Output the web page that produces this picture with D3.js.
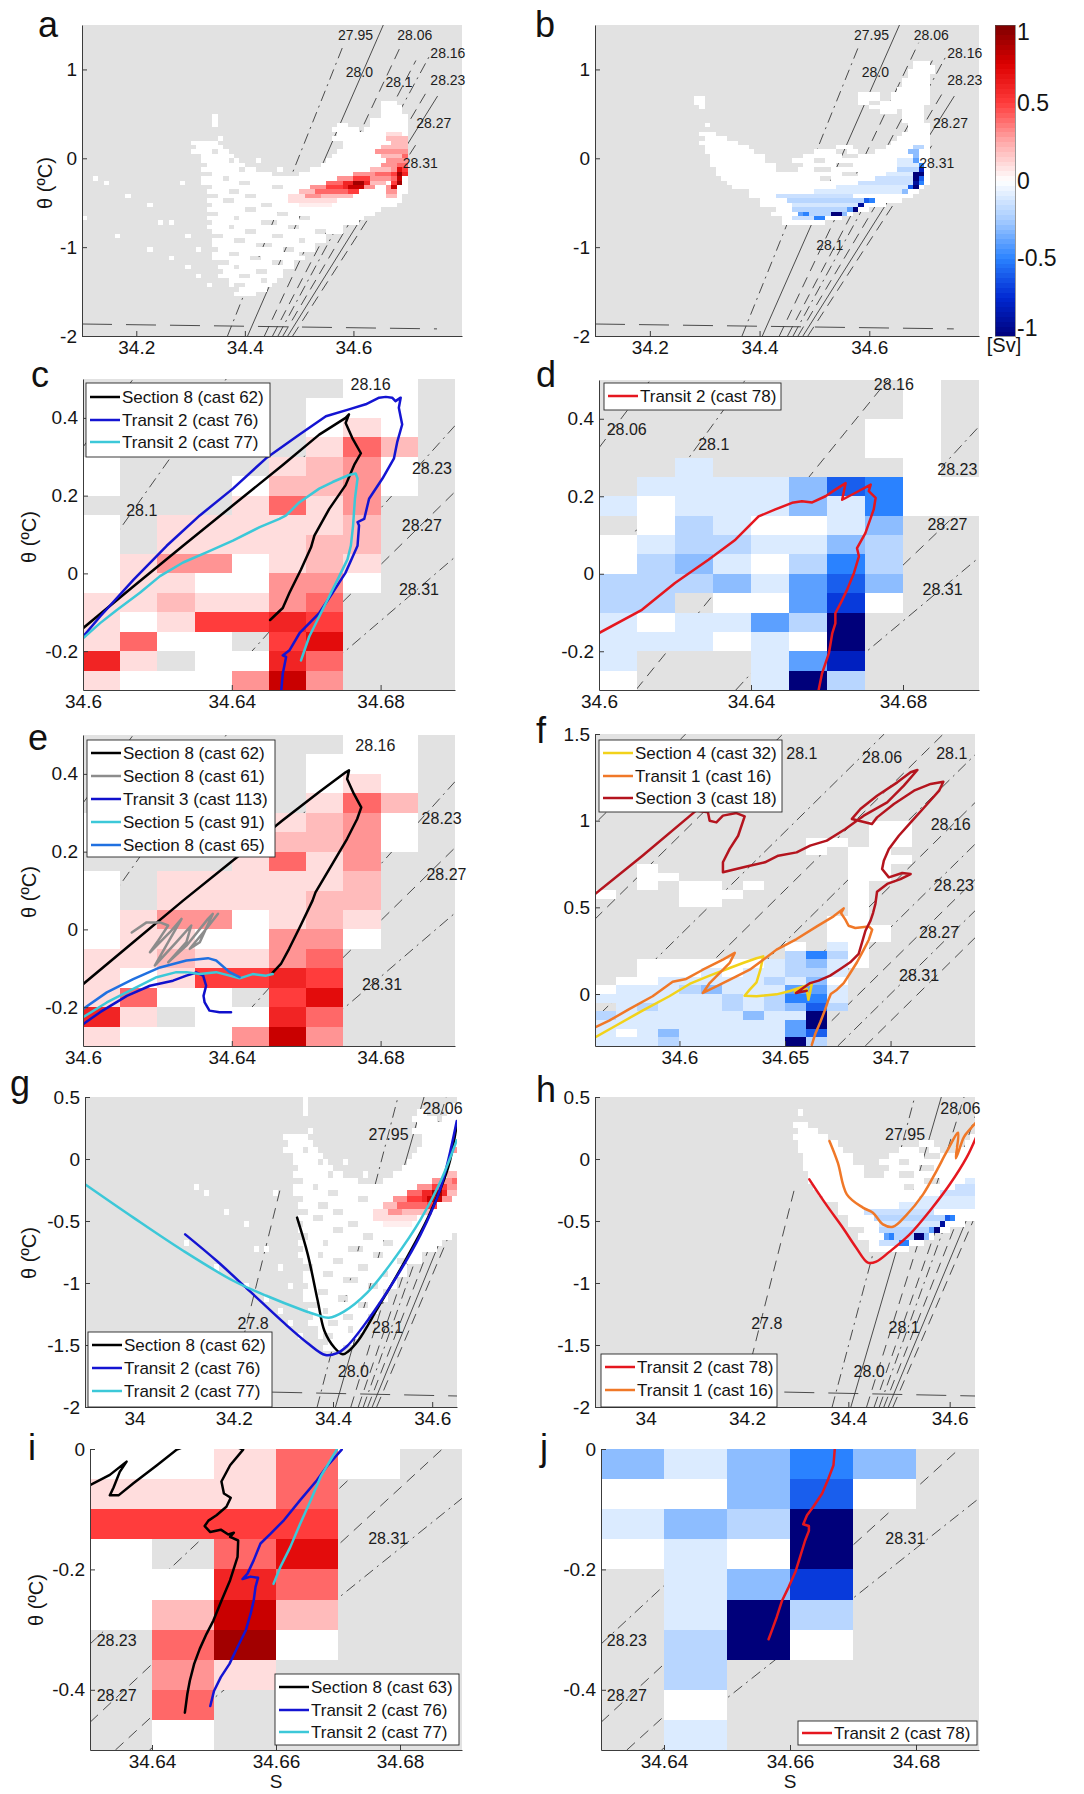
<!DOCTYPE html>
<html>
<head>
<meta charset="utf-8">
<title>θ–S transport diagrams</title>
<script src="https://cdn.jsdelivr.net/npm/d3@7/dist/d3.min.js"></script>
<style>
  html, body { margin: 0; padding: 0; background: #ffffff; }
  svg { display: block; }
  text { font-family: "Liberation Sans", Arial, Helvetica, sans-serif; }
</style>
</head>
<body>
<svg id="fig" width="1084" height="1794"></svg>
<script>
// ---------------------------------------------------------------
// Transport per θ–S bin (Sv). Bins are 0.01 in S and 0.05 °C in θ.
// Fine grids (panels a/g and b/h): runs of [row, col0, col1, value],
// row 0 starts at θ = 1.5, col 0 starts at S = 34.10. Later runs win;
// a null value marks an empty bin.
// ---------------------------------------------------------------
const runsA = [
  [17,55,57,0],[18,55,58,0],[19,54,58,0],
  [20,24,24,0],[20,54,59,0],[21,24,24,0],[21,53,59,0],
  [22,24,24,0],[22,46,48,0],[22,53,59,0],[23,45,50,0],[23,52,59,0],
  [24,45,59,0],[25,25,25,0],[25,46,59,0],
  [26,20,24,0],[26,48,59,0],[27,20,25,0],[27,48,59,0],
  [28,20,26,0],[28,47,59,0],[29,21,27,0],[29,46,59,0],
  [30,22,28,0],[30,32,32,0],[30,45,59,0],[31,22,29,0],[31,44,59,0],
  [32,22,31,0],[32,36,36,0],[32,42,59,0],[33,22,34,0],[33,40,59,0],
  [34,22,59,0],[35,18,18,0],[35,22,59,0],[36,23,59,0],[37,23,59,0],
  [38,23,58,0],[39,23,58,0],[40,23,57,0],[41,23,55,0],[42,23,53,0],
  [43,23,52,0],[44,23,50,0],[45,23,48,0],[46,24,47,0],[47,24,45,0],
  [48,24,44,0],[49,24,43,0],[50,24,42,0],[51,24,41,0],[52,24,40,0],
  [53,25,39,0],[54,25,38,0],[55,25,37,0],[56,25,36,0],[57,27,35,0],
  [58,27,34,0],[59,28,33,0],[60,28,31,0],
  [34,2,2,0],[35,4,4,0],[38,8,8,0],[40,12,12,0],[43,0,0,0],[44,14,14,0],
  [44,16,16,0],[47,6,6,0],[47,19,19,0],[50,12,12,0],[50,21,21,0],
  [52,16,16,0],[54,19,19,0],[56,21,21,0],[58,23,23,0],
  // empty bins inside and along the edge of the cloud
  [41,30,31,null],[42,36,37,null],[43,28,28,null],[43,40,41,null],[44,33,35,null],
  [45,27,27,null],[45,38,39,null],[46,30,31,null],[46,43,44,null],[47,35,36,null],
  [48,28,29,null],[48,40,40,null],[49,32,34,null],[50,37,38,null],[51,27,28,null],
  [51,40,40,null],[52,31,32,null],[53,35,36,null],[54,28,28,null],[55,32,33,null],
  [56,29,30,null],[57,33,33,null],[58,28,29,null],[39,26,27,null],[40,33,34,null],
  [38,30,31,null],[37,27,28,null],[36,35,36,null],[35,29,30,null],[34,26,26,null],
  [36,23,23,null],[38,23,24,null],[40,23,23,null],[42,23,24,null],[44,23,23,null],
  [47,24,25,null],[50,24,24,null],[53,25,26,null],[55,25,25,null],[27,20,20,null],
  [29,21,21,null],[31,22,22,null],[33,22,23,null],[59,28,28,null],[41,55,55,null],
  [43,52,52,null],[45,48,48,null],[47,45,45,null],[49,43,43,null],[51,41,41,null],
  [53,39,39,null],[55,37,37,null],[24,45,46,null],[23,45,45,null],[22,46,46,null],
  [28,24,24,null],[30,27,27,null],[32,29,29,null],[20,54,54,null],[19,54,54,null],
  // positive transport
  [24,56,58,0.1],[25,56,59,0.2],[26,57,59,0.2],[27,55,59,0.2],[28,54,59,0.3],
  [29,55,58,0.2],[29,59,59,0.4],[30,56,59,0.3],[31,55,57,0.3],[31,58,59,0.4],
  [32,53,56,0.2],[32,57,57,0.3],[32,58,58,0.7],[32,59,59,0.5],
  [33,50,53,0.3],[33,54,56,0.4],[33,57,57,0.5],[33,58,58,0.9],[33,59,59,0.6],
  [34,47,49,0.3],[34,50,52,0.5],[34,53,56,0.3],[34,57,57,0.4],[34,58,58,0.8],
  [35,45,47,0.4],[35,48,49,0.6],[35,50,51,0.9],[35,52,52,0.6],[35,53,55,0.2],
  [35,57,57,0.5],[35,58,58,0.9],
  [36,42,44,0.3],[36,45,47,0.5],[36,48,48,0.6],[36,49,51,0.8],[36,52,53,0.3],
  [36,56,56,0.3],[36,57,57,0.8],
  [37,40,42,0.2],[37,43,45,0.4],[37,46,48,0.4],[37,49,50,0.5],[37,56,57,0.3],
  [38,38,40,0.1],[38,41,43,0.3],[38,44,46,0.2],[38,47,49,0.2],[38,56,57,0.2],
  [39,38,42,0.1],[39,43,46,0.1],[40,40,45,0.05]
];

const runsB = [
  [8,58,60,0],[9,58,61,0],[10,57,61,0],[11,57,60,0],[12,56,60,0],[13,56,60,0],
  [14,55,60,0],[15,48,51,0],[15,54,60,0],[16,18,19,0],[16,48,60,0],
  [17,18,19,0],[17,48,60,0],[18,19,19,0],[18,50,59,0],[19,52,59,0],
  [20,56,59,0],[21,56,59,0],[22,20,20,0],[22,57,60,0],[23,57,60,0],
  [24,19,21,0],[24,56,60,0],[25,19,23,0],[25,55,60,0],[26,19,25,0],[26,54,60,0],
  [27,19,27,0],[27,44,46,0],[27,53,60,0],[28,20,28,0],[28,40,47,0],[28,51,60,0],
  [29,20,30,0],[29,38,60,0],[30,21,32,0],[30,36,60,0],[31,21,32,0],[31,38,60,0],
  [32,22,34,0],[32,37,60,0],[33,22,60,0],[34,23,60,0],[35,24,60,0],[36,25,59,0],
  [37,26,58,0],[38,28,57,0],[39,29,55,0],[40,30,52,0],[41,31,49,0],[42,32,46,0],
  [43,33,44,0],[44,34,42,0],
  // empty bins
  [16,52,53,null],[17,50,51,null],[19,55,55,null],[25,19,19,null],[27,19,19,null],
  [29,20,20,null],[30,40,41,null],[31,44,46,null],[32,40,42,null],[33,45,47,null],
  [34,41,42,null],[29,45,47,null],[28,44,45,null],[37,26,27,null],[39,29,29,null],
  [41,31,32,null],[43,33,33,null],[44,42,42,null],[30,31,32,null],[32,33,34,null],
  // negative transport
  [38,33,46,-0.15],[39,35,48,-0.2],[40,36,47,-0.12],[41,36,45,-0.2],[42,39,42,-0.2],
  [37,40,55,-0.1],[36,44,56,-0.1],[35,48,57,-0.15],[34,51,57,-0.15],[33,53,57,-0.1],
  [32,55,58,-0.2],[31,55,58,-0.1],[30,55,57,-0.1],[43,36,39,-0.15],
  [39,49,49,-0.6],[39,50,50,-0.5],[42,37,37,-0.4],[42,38,38,-0.5],[43,40,41,-0.5],
  [42,45,45,-0.3],[41,46,46,-0.4],[31,59,59,-0.5],[30,58,58,-0.4],[29,58,58,-0.3],
  [28,57,58,-0.3],[27,58,59,-0.2],[36,57,57,-0.6],[37,56,56,-0.3],[34,59,59,-0.6],
  [35,59,59,-0.5],
  [42,43,44,-1],[41,47,47,-1],[40,48,48,-0.9],[33,58,59,-1],[34,58,58,-1],
  [35,58,58,-0.9],[36,58,58,-1],[32,59,59,-0.8]
];

// Coarse grids: one string per θ row (top row first), one char per S bin.
// '.' empty, '0' zero, '1'..'9' = +0.1..+0.9, 'X' = +1,
// 'a'..'i' = -0.1..-0.9, 'Z' = -1.
// Panels c and e: S from 34.60, θ from 0.5 down.
const rowsC = [
  ".......00.", "......000.", "......010.", "......142.",
  "0....1230.", "0...02230.", "....1413..", "0.111112..",
  "0.111122..", "01330121..", "01100330..", "1121134...",
  "1015565...", "1400.57...", "61.0064...", "1000383..."
];
// Panel d: S from 34.60, θ from 0.5 down.
const rowsD = [
  "........0.", "........0.", ".......00.", ".......00.",
  "..a.....0.", ".aaaacfe00", "a0aaacae00", ".0ba00ac..",
  "0abbaacb..", "0bca0beb..", "bbbcadfc..", "bb.00dg0..",
  "a0aadbZ...", "aaa0a0Z...", "a...adh...", "0...aZb..."
];
// Panel f: S from 34.56, θ from 1.5 down.
const rowsF = [
  "..................", "..................", "..................", "..................",
  "..................", "..................", "..................", "..................",
  "..................", "..................", ".............00...", ".............00...",
  "..........00.00...", "..........0.00....", "............000...", "..0.........00....",
  "..00........00....", "..0.00.0....0.....", "0...000.....0.....", "....00......0.....",
  "............0.....", "...........00.....", "...........000....", "...........000....",
  ".........0.a0.....", ".........beb0.....", "..000000abca0.....", "..000a0aabba......",
  ".00aaaaabac0......", "0aaabcaaadda......", "aaaaaababeea......", ".abaaababcfb......",
  "baaaaaacaaZ.......", "aaaaaaaaadZ.......", "a0acaaaaadf.......", "aaabaaaaaZb......."
];
// Panels i and j: S from 34.63, θ from 0 down.
const rowsI = [
  "00140.", "1114..", "5555..", "0.47..", "0064..",
  "0282..", ".490..", ".31...", ".4....", ".0...."
];
const rowsJ = [
  "cacec.", "00cf0.", "acbZ..", "0a0Z..", ".acg..",
  ".aZb..", ".bZ0..", ".b....", ".0....", ".a...."
];

// ---------------------------------------------------------------
// Neutral-density contours: [S1, θ1, S2, θ2, style]
// style 0 solid, 1 dashed, 2 dash-dot, 3 long dash
// ---------------------------------------------------------------
const isoWide = [
  [34.368, -2, 34.580, 1.25, 2],
  [34.405, -2, 34.655, 1.50, 0],
  [34.436, -2, 34.690, 1.30, 1],
  [34.451, -2, 34.715, 1.10, 1],
  [34.461, -2, 34.740, 1.15, 2],
  [34.470, -2, 34.735, 0.75, 1],
  [34.479, -2, 34.755, 0.70, 0],
  [34.488, -2, 34.720, 0.20, 1],
  [34.100, -1.865, 34.754, -1.92, 3]
];
const isoCold = [[34.200, -1.75, 34.295, -0.22, 1]];
const isoNarrow = [
  [34.600, 0.325, 34.6135, 0.50, 1],
  [34.600, -0.02, 34.6385, 0.50, 2],
  [34.6097, -0.30, 34.676, 0.50, 1],
  [34.636, -0.30, 34.700, 0.38, 2],
  [34.6457, -0.30, 34.700, 0.21, 1],
  [34.6583, -0.30, 34.700, 0.042, 2]
];
const isoMid = [
  [34.453, -0.3, 34.603, 1.5, 2], [34.499, -0.3, 34.649, 1.5, 1],
  [34.547, -0.3, 34.697, 1.5, 2], [34.575, -0.3, 34.725, 1.5, 1],
  [34.600, -0.3, 34.750, 1.5, 2], [34.623, -0.3, 34.773, 1.5, 1],
  [34.643, -0.3, 34.793, 1.5, 2], [34.660, -0.3, 34.810, 1.5, 1],
  [34.675, -0.3, 34.825, 1.5, 2], [34.688, -0.3, 34.838, 1.5, 1]
];
const isoDeep = [
  [34.630, -0.324, 34.6634, 0, 2],
  [34.630, -0.454, 34.677, 0, 1],
  [34.6396, -0.5, 34.690, -0.082, 2],
  [34.6341, -0.5, 34.690, 0.03, 1]
];

// Contour labels: [S, θ, text]
const labelsA = [[34.604,1.387,"27.95"],[34.713,1.387,"28.06"],[34.774,1.184,"28.16"],[34.611,0.97,"28.0"],
  [34.684,0.857,"28.1"],[34.774,0.88,"28.23"],[34.748,0.395,"28.27"],[34.723,-0.056,"28.31"]];
const labelsB = [[34.604,1.387,"27.95"],[34.713,1.387,"28.06"],[34.774,1.184,"28.16"],[34.611,0.97,"28.0"],
  [34.528,-0.98,"28.1"],[34.774,0.88,"28.23"],[34.748,0.395,"28.27"],[34.723,-0.056,"28.31"]];
const labelsC = [[34.6158,0.162,"28.1"],[34.6773,0.487,"28.16"],[34.6938,0.27,"28.23"],[34.6911,0.123,"28.27"],[34.6903,-0.042,"28.31"]];
const labelsD = [[34.6073,0.372,"28.06"],[34.6302,0.334,"28.1"],[34.6776,0.489,"28.16"],[34.6943,0.269,"28.23"],[34.6917,0.128,"28.27"],[34.6904,-0.041,"28.31"]];
const labelsE = [[34.6786,0.473,"28.16"],[34.6964,0.284,"28.23"],[34.6977,0.142,"28.27"],[34.6804,-0.141,"28.31"]];
const labelsF = [[34.658,1.39,"28.1"],[34.696,1.365,"28.06"],[34.729,1.39,"28.1"],[34.7285,0.98,"28.16"],
  [34.730,0.625,"28.23"],[34.723,0.356,"28.27"],[34.7135,0.106,"28.31"]];
const labelsGH = [[34.512,0.2,"27.95"],[34.621,0.41,"28.06"],[34.239,-1.33,"27.8"],[34.510,-1.36,"28.1"],[34.441,-1.71,"28.0"]];
const labelsI = [[34.6781,-0.149,"28.31"],[34.6343,-0.318,"28.23"],[34.6343,-0.41,"28.27"]];
const labelsJ = [[34.6783,-0.149,"28.31"],[34.6341,-0.318,"28.23"],[34.6341,-0.41,"28.27"]];

// ---------------------------------------------------------------
// CTD casts as [S, θ] profiles
// ---------------------------------------------------------------
const c_sec8_62 = [[34.6,-0.141],[34.6136,-0.033],[34.6269,0.071],[34.6403,0.175],[34.6537,0.279],[34.6635,0.357],
  [34.6706,0.400],[34.6715,0.409],[34.6706,0.387],[34.6724,0.348],[34.6747,0.309],[34.6729,0.279],[34.6706,0.227],
  [34.6662,0.166],[34.6622,0.097],[34.6613,0.067],[34.6586,0.010],[34.6555,-0.050],[34.6537,-0.089],[34.6503,-0.120]];
const c_tr2_76 = [[34.6533,-0.301],[34.6537,-0.258],[34.6546,-0.215],[34.6537,-0.211],[34.6555,-0.198],[34.6582,-0.154],
  [34.6635,-0.102],[34.6671,-0.050],[34.6706,0.002],[34.6738,0.071],[34.6742,0.123],[34.6738,0.132],[34.6756,0.140],
  [34.6769,0.192],[34.6805,0.244],[34.6836,0.296],[34.6845,0.339],[34.6858,0.383],[34.6849,0.426],[34.6854,0.452],
  [34.6840,0.443],[34.6831,0.452],[34.6814,0.454],[34.6796,0.452],[34.6760,0.435],[34.6715,0.422],[34.6653,0.404],
  [34.6582,0.357],[34.6492,0.296],[34.6403,0.218],[34.6314,0.149],[34.6225,0.071],[34.6136,-0.016],[34.6046,-0.111],[34.6,-0.163]];
const c_tr2_77 = [[34.6,-0.167],[34.6046,-0.128],[34.6091,-0.094],[34.6153,-0.050],[34.6207,-0.007],[34.6269,0.028],
  [34.6332,0.054],[34.6403,0.084],[34.6475,0.119],[34.6528,0.140],[34.6546,0.149],[34.6582,0.183],[34.6635,0.218],
  [34.6671,0.235],[34.6715,0.253],[34.6733,0.257],[34.6738,0.244],[34.6731,0.192],[34.6726,0.123],[34.6720,0.071],
  [34.6711,0.036],[34.6689,-0.007],[34.6662,-0.059],[34.6635,-0.111],[34.6608,-0.163],[34.6586,-0.224]];
const d_tr2_78 = [[34.6,-0.153],[34.6113,-0.093],[34.6200,-0.024],[34.6288,0.036],[34.6359,0.088],[34.6420,0.148],
  [34.6464,0.166],[34.6508,0.183],[34.6534,0.187],[34.6561,0.184],[34.6596,0.200],[34.6622,0.217],[34.6649,0.234],
  [34.6640,0.191],[34.6675,0.209],[34.6715,0.230],[34.6710,0.213],[34.6728,0.196],[34.6723,0.166],[34.6701,0.105],
  [34.6679,0.066],[34.6684,0.045],[34.6671,0.002],[34.6653,-0.041],[34.6636,-0.076],[34.6622,-0.102],[34.6622,-0.128],
  [34.6614,-0.153],[34.6605,-0.205],[34.6587,-0.257],[34.6578,-0.300]];
const e_sec8_62 = [[34.6,-0.141],[34.6135,-0.033],[34.6269,0.074],[34.6403,0.177],[34.6536,0.280],[34.6634,0.353],
  [34.6706,0.404],[34.6715,0.409],[34.6710,0.387],[34.6728,0.349],[34.6748,0.314],[34.6737,0.284],[34.6710,0.233],
  [34.6670,0.168],[34.6625,0.095],[34.6617,0.074],[34.6585,0.010],[34.6554,-0.050],[34.6532,-0.089],[34.6510,-0.111]];
const e_sec8_61 = [[34.6131,-0.008],[34.6171,0.018],[34.6207,0.018],[34.6229,0.010],[34.6202,-0.029],[34.6180,-0.059],
  [34.6233,-0.008],[34.6265,0.027],[34.6229,-0.033],[34.6193,-0.093],[34.6251,-0.033],[34.6291,0.010],[34.6278,-0.033],
  [34.6229,-0.085],[34.6278,-0.042],[34.6336,0.027],[34.6349,0.040],[34.6314,-0.033],[34.6287,-0.050],[34.6331,0.001],[34.6363,0.040]];
const e_tr3_113 = [[34.6,-0.244],[34.6046,-0.213],[34.6118,-0.171],[34.6180,-0.145],[34.6242,-0.132],[34.6278,-0.119],
  [34.6305,-0.111],[34.6323,-0.119],[34.6331,-0.145],[34.6324,-0.171],[34.6327,-0.188],[34.6340,-0.209],[34.6367,-0.213],[34.6398,-0.213]];
const e_sec5_91 = [[34.6,-0.226],[34.6064,-0.188],[34.6135,-0.153],[34.6198,-0.123],[34.6251,-0.110],[34.6278,-0.110],
  [34.6314,-0.115],[34.6358,-0.110],[34.6394,-0.119],[34.6421,-0.126],[34.6456,-0.115],[34.6492,-0.119],[34.6510,-0.115]];
const e_sec8_65 = [[34.6,-0.205],[34.6064,-0.162],[34.6135,-0.128],[34.6207,-0.098],[34.6278,-0.080],[34.6336,-0.074],
  [34.6358,-0.080],[34.6394,-0.110],[34.6421,-0.123]];
const f_sec4_32 = [[34.560,-0.250],[34.5698,-0.183],[34.5825,-0.096],[34.5952,-0.013],[34.6048,0.058],[34.6143,0.106],
  [34.6238,0.150],[34.6301,0.179],[34.6365,0.206],[34.6397,0.217],[34.6384,0.144],[34.6365,0.067],[34.6333,0.025],
  [34.6309,-0.010],[34.6365,-0.013],[34.6460,-0.002],[34.6524,0.017],[34.6587,0.044],[34.6627,0.058],[34.6619,0.010],
  [34.6611,-0.033],[34.6603,0.029],[34.6571,0.033],[34.6547,0.010]];
const f_tr1_16 = [[34.560,-0.192],[34.5667,-0.154],[34.5762,-0.087],[34.5873,-0.013],[34.5968,0.071],[34.6032,0.087],
  [34.6111,0.140],[34.6206,0.198],[34.6262,0.237],[34.6238,0.179],[34.6190,0.121],[34.6143,0.063],[34.6111,0.006],
  [34.6175,0.044],[34.6270,0.102],[34.6333,0.140],[34.6397,0.198],[34.6460,0.256],[34.6555,0.317],[34.6651,0.390],
  [34.6730,0.448],[34.6778,0.494],[34.6765,0.467],[34.6786,0.429],[34.6801,0.394],[34.6833,0.381],[34.6897,0.390],
  [34.6913,0.371],[34.6897,0.313],[34.6873,0.256],[34.6841,0.183],[34.6809,0.121],[34.6778,0.063],[34.6746,0.025],
  [34.6717,0.000],[34.6706,-0.033],[34.6690,-0.090],[34.6667,-0.163],[34.6643,-0.231],[34.6627,-0.294]];
const f_sec3_18 = [[34.560,0.577],[34.5825,0.798],[34.6079,1.058],[34.6135,1.048],[34.6143,1.000],[34.6175,0.990],
  [34.6206,1.029],[34.6270,1.044],[34.6309,1.025],[34.6278,0.913],[34.6238,0.837],[34.6206,0.760],[34.6206,0.702],
  [34.6254,0.717],[34.6333,0.740],[34.6405,0.760],[34.6468,0.798],[34.6555,0.817],[34.6619,0.856],[34.6698,0.885],
  [34.6786,0.952],[34.6873,1.029],[34.6984,1.106],[34.7063,1.202],[34.7127,1.292],[34.7095,1.279],[34.7032,1.221],
  [34.6936,1.144],[34.6857,1.067],[34.6817,1.010],[34.6912,0.981],[34.6936,1.019],[34.7016,1.096],[34.7111,1.173],
  [34.7190,1.212],[34.7250,1.225],[34.7230,1.173],[34.7174,1.096],[34.7103,1.000],[34.7039,0.913],[34.6992,0.837],
  [34.6968,0.769],[34.6960,0.721],[34.6992,0.673],[34.7055,0.698],[34.7095,0.692],[34.7047,0.663],[34.6984,0.635],
  [34.6936,0.590],[34.6928,0.519],[34.6917,0.467],[34.6905,0.423],[34.6881,0.365],[34.6865,0.298],[34.6849,0.231],
  [34.6809,0.183],[34.6762,0.144],[34.6714,0.106],[34.6659,0.077],[34.6619,0.063],[34.6579,0.029],[34.6552,0.006],[34.6603,0.019]];
const g_sec8_62 = [[34.3276,-0.473],[34.3491,-0.769],[34.3693,-1.145],[34.3828,-1.387],[34.4030,-1.522],[34.4198,-1.575],
  [34.4299,-1.554],[34.4502,-1.468],[34.4906,-1.199],[34.5377,-0.876],[34.5916,-0.473],[34.6320,-0.070],[34.6495,0.280]];
const g_tr2_76 = [[34.1020,-0.608],[34.1660,-0.823],[34.2333,-1.070],[34.3007,-1.320],[34.3478,-1.481],[34.3848,-1.581],
  [34.4084,-1.565],[34.4286,-1.508],[34.4690,-1.306],[34.5229,-0.984],[34.5768,-0.608],[34.6172,-0.231],[34.6495,0.306]];
const g_tr2_77 = [[33.900,-0.204],[33.9976,-0.473],[34.0987,-0.742],[34.1997,-0.984],[34.2670,-1.105],[34.3343,-1.212],
  [34.3680,-1.258],[34.3916,-1.280],[34.4219,-1.231],[34.4690,-1.078],[34.5229,-0.809],[34.5768,-0.487],[34.6172,-0.177],[34.6495,0.151]];
const h_tr2_78 = [[34.3230,-0.164],[34.3560,-0.366],[34.3891,-0.554],[34.4155,-0.715],[34.4386,-0.836],[34.4551,-0.828],
  [34.4815,-0.747],[34.5211,-0.608],[34.5607,-0.419],[34.6003,-0.204],[34.6333,0.011],[34.6518,0.172]];
const h_tr1_16 = [[34.3627,0.145],[34.3792,-0.030],[34.3970,-0.285],[34.4287,-0.392],[34.4485,-0.433],[34.4683,-0.527],
  [34.4881,-0.546],[34.5145,-0.452],[34.5475,-0.285],[34.5739,-0.097],[34.5950,0.065],[34.6168,0.212],[34.6122,0.005],
  [34.6281,0.177],[34.6399,0.239],[34.6518,0.293]];
const i_sec8_63 = [[34.6300,-0.060],[34.6332,-0.043],[34.6359,-0.021],[34.6348,-0.038],[34.6338,-0.064],[34.6332,-0.077],
  [34.6346,-0.077],[34.6370,-0.057],[34.6408,-0.027],[34.6440,-0.001],[34.6494,0.021],[34.6547,-0.001],[34.6526,-0.027],
  [34.6512,-0.054],[34.6516,-0.074],[34.6527,-0.081],[34.6520,-0.096],[34.6504,-0.110],[34.6491,-0.119],[34.6485,-0.128],
  [34.6494,-0.138],[34.6511,-0.134],[34.6523,-0.142],[34.6532,-0.139],[34.6526,-0.146],[34.6539,-0.152],[34.6538,-0.179],
  [34.6526,-0.218],[34.6512,-0.252],[34.6499,-0.285],[34.6488,-0.307],[34.6477,-0.332],[34.6468,-0.357],[34.6461,-0.385],
  [34.6457,-0.407],[34.6453,-0.438]];
const i_tr2_76 = [[34.6706,-0.001],[34.6682,-0.029],[34.6666,-0.052],[34.6639,-0.085],[34.6613,-0.118],[34.6591,-0.141],
  [34.6575,-0.157],[34.6564,-0.185],[34.6554,-0.207],[34.6546,-0.216],[34.6559,-0.212],[34.6571,-0.214],[34.6567,-0.229],
  [34.6564,-0.252],[34.6559,-0.274],[34.6551,-0.302],[34.6538,-0.329],[34.6525,-0.357],[34.6511,-0.379],[34.6500,-0.402],[34.6494,-0.427]];
const i_tr2_77 = [[34.6698,-0.001],[34.6672,-0.046],[34.6656,-0.085],[34.6639,-0.124],[34.6623,-0.163],[34.6607,-0.196],[34.6596,-0.224]];
const j_tr2_78 = [[34.6671,-0.001],[34.6669,-0.027],[34.6661,-0.049],[34.6651,-0.074],[34.6637,-0.096],[34.6627,-0.110],
  [34.6621,-0.125],[34.6630,-0.128],[34.6630,-0.136],[34.6624,-0.152],[34.6616,-0.179],[34.6609,-0.203],[34.6598,-0.229],
  [34.6587,-0.253],[34.6579,-0.279],[34.6571,-0.302],[34.6566,-0.316]];

// Cast names and colours
const castStyle = {
  sec8_62:  ["Section 8 (cast 62)",  "#000000"],
  sec8_63:  ["Section 8 (cast 63)",  "#000000"],
  tr2_76:   ["Transit 2 (cast 76)",  "#1414d2"],
  tr2_77:   ["Transit 2 (cast 77)",  "#3cc8d8"],
  tr2_78:   ["Transit 2 (cast 78)",  "#e5171f"],
  sec8_61:  ["Section 8 (cast 61)",  "#8c8c8c"],
  tr3_113:  ["Transit 3 (cast 113)", "#1010cc"],
  sec5_91:  ["Section 5 (cast 91)",  "#3cc8d8"],
  sec8_65:  ["Section 8 (cast 65)",  "#2070e0"],
  sec4_32:  ["Section 4 (cast 32)",  "#f2d21a"],
  tr1_16:   ["Transit 1 (cast 16)",  "#f07828"],
  sec3_18:  ["Section 3 (cast 18)",  "#b4141e"]
};

// Colour-bar values
const cbarTicks = [1, 0.5, 0, -0.5, -1];

// ---------------------------------------------------------------
// Drawing
// ---------------------------------------------------------------
const svg = d3.select("#fig");
const BG = "#e2e2e2";
const dS = 0.01, dT = 0.05;
const dashes = [null, "11,7", "11,5,2,5", "30,14"];

const fluxStops  = [-1, -0.75, -0.5, -0.25, 0, 0.25, 0.5, 0.75, 1];
const fluxColors = ["#00007a","#0028d2","#2a82ff","#a6ccff","#ffffff","#ffaaaa","#ff3c3c","#dc0000","#7c0000"];
const fluxColor = d3.scaleLinear().domain(fluxStops).range(fluxColors).clamp(true);

function charValue(ch) {
  if (ch === ".") return null;
  if (ch === "X") return 1;
  if (ch === "Z") return -1;
  if (ch >= "0" && ch <= "9") return +ch / 10;
  return -(ch.charCodeAt(0) - 96) / 10;
}
function cellsFromRows(rows) {
  const out = [];
  rows.forEach((s, r) => [...s].forEach((ch, c) => {
    const v = charValue(ch);
    if (v !== null) out.push({ r, c, v });
  }));
  return out;
}
function cellsFromRuns(runs) {
  const m = new Map();
  runs.forEach(([r, c0, c1, v]) => {
    for (let c = c0; c <= c1; c++) {
      if (v === null) m.delete(r * 1000 + c);
      else m.set(r * 1000 + c, { r, c, v });
    }
  });
  return [...m.values()];
}

const cellsA = cellsFromRuns(runsA);
const cellsB = cellsFromRuns(runsB);
const cellsC = cellsFromRows(rowsC);
const cellsD = cellsFromRows(rowsD);
const cellsF = cellsFromRows(rowsF);
const cellsI = cellsFromRows(rowsI);
const cellsJ = cellsFromRows(rowsJ);

const gridWide = { S0: 34.10, T0: 1.5 };
const gridNarrow = { S0: 34.60, T0: 0.5 };
const gridMid = { S0: 34.56, T0: 1.5 };
const gridDeep = { S0: 34.63, T0: 0 };

const cast = (key, pts) => ({ pts, name: castStyle[key][0], color: castStyle[key][1] });

const panels = [
  { id: "a", box: [82, 25, 462, 336], xDom: [34.1, 34.8], yDom: [-2, 1.5],
    xTicks: [34.2, 34.4, 34.6], yTicks: [-2, -1, 0, 1], cells: cellsA, grid: gridWide,
    iso: isoWide, labels: labelsA, labelSize: 14, casts: [], letter: [38, 37], ylab: [45, 183] },
  { id: "b", box: [595, 25, 979, 336], xDom: [34.1, 34.8], yDom: [-2, 1.5],
    xTicks: [34.2, 34.4, 34.6], yTicks: [-2, -1, 0, 1], cells: cellsB, grid: gridWide,
    iso: isoWide, labels: labelsB, labelSize: 14, casts: [], letter: [535, 37], cbar: true },
  { id: "c", box: [83, 379, 455, 690], xDom: [34.6, 34.7], yDom: [-0.3, 0.5],
    xTicks: [34.6, 34.64, 34.68], yTicks: [-0.2, 0, 0.2, 0.4], cells: cellsC, grid: gridNarrow,
    iso: isoNarrow, labels: labelsC, labelSize: 16,
    casts: [cast("sec8_62", c_sec8_62), cast("tr2_76", c_tr2_76), cast("tr2_77", c_tr2_77)],
    legend: { box: [86, 383, 184, 74], rows: [397, 420, 442] }, letter: [31, 387], ylab: [29, 537] },
  { id: "d", box: [599, 380, 979, 690], xDom: [34.6, 34.7], yDom: [-0.3, 0.5],
    xTicks: [34.6, 34.64, 34.68], yTicks: [-0.2, 0, 0.2, 0.4], cells: cellsD, grid: gridNarrow,
    iso: isoNarrow, labels: labelsD, labelSize: 16,
    casts: [cast("tr2_78", d_tr2_78)],
    legend: { box: [604, 383, 177, 27], rows: [396] }, letter: [536, 387] },
  { id: "e", box: [83, 735, 455, 1046], xDom: [34.6, 34.7], yDom: [-0.3, 0.5],
    xTicks: [34.6, 34.64, 34.68], yTicks: [-0.2, 0, 0.2, 0.4], cells: cellsC, grid: gridNarrow,
    iso: isoNarrow, labels: labelsE, labelSize: 16,
    casts: [cast("sec8_62", e_sec8_62), cast("sec8_61", e_sec8_61), cast("tr3_113", e_tr3_113),
            cast("sec5_91", e_sec5_91), cast("sec8_65", e_sec8_65)],
    legend: { box: [87, 740, 188, 117], rows: [753, 776, 799, 822, 845] }, letter: [28, 750], ylab: [29, 892] },
  { id: "f", box: [595, 734, 975, 1046], xDom: [34.56, 34.74], yDom: [-0.3, 1.5],
    xTicks: [34.6, 34.65, 34.7], yTicks: [0, 0.5, 1, 1.5], cells: cellsF, grid: gridMid,
    iso: isoMid, labels: labelsF, labelSize: 16,
    casts: [cast("sec4_32", f_sec4_32), cast("tr1_16", f_tr1_16), cast("sec3_18", f_sec3_18)],
    legend: { box: [599, 740, 183, 72], rows: [753, 776, 798] }, letter: [536, 743] },
  { id: "g", box: [85, 1097, 457, 1407], xDom: [33.9, 34.65], yDom: [-2, 0.5],
    xTicks: [34, 34.2, 34.4, 34.6], yTicks: [-2, -1.5, -1, -0.5, 0, 0.5], cells: cellsA, grid: gridWide,
    iso: isoWide.concat(isoCold), labels: labelsGH, labelSize: 16, smooth: true,
    casts: [cast("sec8_62", g_sec8_62), cast("tr2_76", g_tr2_76), cast("tr2_77", g_tr2_77)],
    legend: { box: [88, 1332, 184, 75], rows: [1345, 1368, 1391] }, letter: [10, 1096], ylab: [29, 1253] },
  { id: "h", box: [595, 1097, 975, 1407], xDom: [33.9, 34.65], yDom: [-2, 0.5],
    xTicks: [34, 34.2, 34.4, 34.6], yTicks: [-2, -1.5, -1, -0.5, 0, 0.5], cells: cellsB, grid: gridWide,
    iso: isoWide.concat(isoCold), labels: labelsGH, labelSize: 16, smooth: true,
    casts: [cast("tr2_78", h_tr2_78), cast("tr1_16", h_tr1_16)],
    legend: { box: [601, 1354, 176, 53], rows: [1367, 1390] }, letter: [536, 1102] },
  { id: "i", box: [90, 1449, 462, 1750], xDom: [34.63, 34.69], yDom: [-0.5, 0],
    xTicks: [34.64, 34.66, 34.68], yTicks: [-0.4, -0.2, 0], cells: cellsI, grid: gridDeep,
    iso: isoDeep, labels: labelsI, labelSize: 16,
    casts: [cast("sec8_63", i_sec8_63), cast("tr2_76", i_tr2_76), cast("tr2_77", i_tr2_77)],
    legend: { box: [275, 1674, 184, 71], rows: [1687, 1710, 1732] }, letter: [28, 1460], ylab: [36, 1600], xlab: true },
  { id: "j", box: [601, 1449, 979, 1750], xDom: [34.63, 34.69], yDom: [-0.5, 0],
    xTicks: [34.64, 34.66, 34.68], yTicks: [-0.4, -0.2, 0], cells: cellsJ, grid: gridDeep,
    iso: isoDeep, labels: labelsJ, labelSize: 16,
    casts: [cast("tr2_78", j_tr2_78)],
    legend: { box: [798, 1721, 179, 24], rows: [1733] }, letter: [540, 1460], xlab: true }
];

const tickFmt = v => String(+v.toFixed(4));

function styleAxis(sel) {
  sel.attr("font-size", null).attr("font-family", null);
  sel.select(".domain").attr("stroke", "#3c3c3c").attr("stroke-width", 1);
  sel.selectAll(".tick line").attr("stroke", "#3c3c3c");
  sel.selectAll(".tick text").attr("font-size", 19).attr("fill", "#141414");
}

function drawPanel(p) {
  const [x0, y0, x1, y1] = p.box;
  const xs = d3.scaleLinear().domain(p.xDom).range([x0, x1]);
  const ys = d3.scaleLinear().domain(p.yDom).range([y1, y0]);
  const g = svg.append("g").attr("id", "panel-" + p.id);

  const clipId = "clip-" + p.id;
  g.append("clipPath").attr("id", clipId)
    .append("rect").attr("x", x0).attr("y", y0).attr("width", x1 - x0).attr("height", y1 - y0);

  g.append("rect").attr("x", x0).attr("y", y0).attr("width", x1 - x0).attr("height", y1 - y0).attr("fill", BG);

  const plot = g.append("g").attr("clip-path", `url(#${clipId})`);

  // density contours (drawn under the transport bins)
  plot.append("g").selectAll("line").data(p.iso).join("line")
    .attr("x1", d => xs(d[0])).attr("y1", d => ys(d[1]))
    .attr("x2", d => xs(d[2])).attr("y2", d => ys(d[3]))
    .attr("stroke", "#3a3a3a").attr("stroke-width", 0.9)
    .attr("stroke-dasharray", d => dashes[d[4]]);

  // transport bins
  const gx = c => Math.round(xs(p.grid.S0 + c * dS));
  const gy = r => Math.round(ys(p.grid.T0 - r * dT));
  plot.append("g").attr("shape-rendering", "crispEdges").selectAll("rect").data(p.cells).join("rect")
    .attr("x", d => gx(d.c)).attr("width", d => gx(d.c + 1) - gx(d.c))
    .attr("y", d => gy(d.r)).attr("height", d => gy(d.r + 1) - gy(d.r))
    .attr("fill", d => fluxColor(d.v));

  // casts
  const line = d3.line().x(d => xs(d[0])).y(d => ys(d[1]))
    .curve(p.smooth ? d3.curveCatmullRom.alpha(0.5) : d3.curveLinear);
  plot.append("g").selectAll("path").data(p.casts).join("path")
    .attr("d", d => line(d.pts)).attr("fill", "none")
    .attr("stroke", d => d.color).attr("stroke-width", 2.5)
    .attr("stroke-linejoin", "round").attr("stroke-linecap", "round");

  // contour labels
  g.append("g").selectAll("text").data(p.labels).join("text")
    .attr("x", d => xs(d[0])).attr("y", d => ys(d[1]))
    .attr("text-anchor", "middle").attr("dominant-baseline", "central")
    .attr("font-size", p.labelSize).attr("fill", "#1c1c1c").text(d => d[2]);

  // axes
  g.append("g").attr("transform", `translate(0,${y1})`)
    .call(d3.axisBottom(xs).tickValues(p.xTicks).tickFormat(tickFmt)
      .tickSizeInner(-5).tickSizeOuter(0).tickPadding(5))
    .call(styleAxis);
  g.append("g").attr("transform", `translate(${x0},0)`)
    .call(d3.axisLeft(ys).tickValues(p.yTicks).tickFormat(tickFmt)
      .tickSizeInner(-5).tickSizeOuter(0).tickPadding(5))
    .call(styleAxis);

  // legend
  if (p.legend) {
    const [lx, ly, lw, lh] = p.legend.box;
    const lg = g.append("g");
    lg.append("rect").attr("x", lx).attr("y", ly).attr("width", lw).attr("height", lh)
      .attr("fill", "#ffffff").attr("stroke", "#262626").attr("stroke-width", 0.9);
    p.casts.forEach((c, i) => {
      const yy = p.legend.rows[i];
      lg.append("line").attr("x1", lx + 4).attr("x2", lx + 34).attr("y1", yy).attr("y2", yy)
        .attr("stroke", c.color).attr("stroke-width", 2.5);
      lg.append("text").attr("x", lx + 36).attr("y", yy).attr("dominant-baseline", "central")
        .attr("font-size", 17).attr("fill", "#141414").text(c.name);
    });
  }

  // panel letter
  g.append("text").attr("x", p.letter[0]).attr("y", p.letter[1])
    .attr("font-family", "'Liberation Serif', 'Times New Roman', serif")
    .attr("font-size", 36).attr("fill", "#111").text(p.id);

  // y label
  if (p.ylab) {
    g.append("text").attr("transform", `translate(${p.ylab[0]},${p.ylab[1]}) rotate(-90)`)
      .attr("text-anchor", "middle").attr("dominant-baseline", "central")
      .attr("font-size", 20).attr("fill", "#141414").text("θ (ºC)");
  }
  // x label
  if (p.xlab) {
    g.append("text").attr("x", xs(34.66)).attr("y", 1788).attr("text-anchor", "middle")
      .attr("font-size", 19).attr("fill", "#141414").text("S");
  }

  // colour bar
  if (p.cbar) {
    const cx0 = 995, cw = 20, cy0 = 25, cy1 = 336;
    const cs = d3.scaleLinear().domain([-1, 1]).range([cy1, cy0]);
    const n = 64;
    const levels = d3.range(n).map(i => -1 + (i + 0.5) * 2 / n);
    const cb = svg.append("g").attr("shape-rendering", "crispEdges");
    cb.selectAll("rect").data(levels).join("rect")
      .attr("x", cx0).attr("width", cw)
      .attr("y", d => Math.floor(cs(d + 1 / n))).attr("height", d => Math.ceil(cs(d - 1 / n)) - Math.floor(cs(d + 1 / n)))
      .attr("fill", d => fluxColor(d));
    cb.append("rect").attr("x", cx0).attr("y", cy0).attr("width", cw).attr("height", cy1 - cy0)
      .attr("fill", "none").attr("stroke", "#555").attr("stroke-width", 0.6);
    svg.append("g").selectAll("text").data(cbarTicks).join("text")
      .attr("x", cx0 + cw + 2)
      .attr("y", d => Math.min(Math.max(cs(d), cy0 + 7), cy1 - 8))
      .attr("dominant-baseline", "central").attr("font-size", 23).attr("fill", "#141414")
      .text(d => tickFmt(d));
    svg.append("text").attr("x", cx0 + cw / 2 - 1).attr("y", 352).attr("text-anchor", "middle")
      .attr("font-size", 20).attr("fill", "#141414").text("[Sv]");
  }
}

panels.forEach(drawPanel);
</script>
</body>
</html>
